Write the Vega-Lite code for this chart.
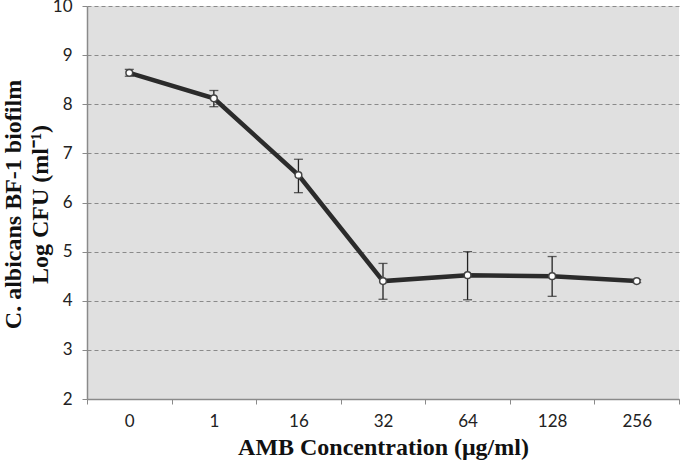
{
  "$schema": "https://vega.github.io/schema/vega-lite/v6.json",
  "width": 592,
  "height": 393,
  "autosize": {"type": "none"},
  "padding": {"left": 87, "top": 6, "right": 1, "bottom": 66},
  "background": "white",
  "config": {
    "view": {"fill": "#e0e0e0", "stroke": null},
    "axis": {"labelFont": "Lato", "labelFontSize": 17, "labelColor": "#222", "titleFont": "Liberation Serif", "titleFontSize": 24, "titleFontWeight": "bold", "titleColor": "#111"}
  },
  "data": {"values": [
    {"conc": "0", "mean": 8.64, "lo": 8.57, "hi": 8.71},
    {"conc": "1", "mean": 8.12, "lo": 7.95, "hi": 8.28},
    {"conc": "16", "mean": 6.56, "lo": 6.20, "hi": 6.88},
    {"conc": "32", "mean": 4.40, "lo": 4.03, "hi": 4.76},
    {"conc": "64", "mean": 4.52, "lo": 4.02, "hi": 5.0},
    {"conc": "128", "mean": 4.50, "lo": 4.09, "hi": 4.90},
    {"conc": "256", "mean": 4.40, "lo": 4.37, "hi": 4.43}
  ]},
  "encoding": {
    "x": {
      "field": "conc", "type": "nominal", "sort": null,
      "scale": {"type": "band", "paddingInner": 0, "paddingOuter": 0},
      "axis": {"title": "AMB Concentration (μg/ml)", "labelAngle": 0, "tickBand": "extent", "domainColor": "#8a8a8a", "domainWidth": 1.5, "tickColor": "#8a8a8a", "tickSize": 5, "labelPadding": 9, "titleBaseline": "middle", "titleY": 48, "grid": false}
    }
  },
  "layer": [
    {
      "mark": {"type": "rule", "color": "#222", "strokeWidth": 1.3},
      "encoding": {
        "y": {"field": "lo", "type": "quantitative"},
        "y2": {"field": "hi"}
      }
    },
    {
      "mark": {"type": "tick", "color": "#222", "thickness": 1.3, "size": 9, "orient": "horizontal"},
      "encoding": {"y": {"field": "lo", "type": "quantitative"}}
    },
    {
      "mark": {"type": "tick", "color": "#222", "thickness": 1.3, "size": 9, "orient": "horizontal"},
      "encoding": {"y": {"field": "hi", "type": "quantitative"}}
    },
    {
      "mark": {"type": "line", "color": "#2b2b2b", "strokeWidth": 4.5},
      "encoding": {
        "y": {
          "field": "mean", "type": "quantitative",
          "scale": {"domain": [2, 10], "nice": false, "zero": false},
          "axis": {"title": ["C. albicans BF-1 biofilm", "Log CFU (ml⁻¹)"], "values": [2, 3, 4, 5, 6, 7, 8, 9, 10], "grid": true, "gridColor": "#8a8a8a", "gridDash": [4, 3], "gridWidth": 1, "domainColor": "#8a8a8a", "domainWidth": 1.5, "tickColor": "#8a8a8a", "tickSize": 5, "labelPadding": 10, "titleAngle": -90, "titleBaseline": "middle", "titleX": -74, "titleY": 198, "titleLineHeight": 27}
        }
      }
    },
    {
      "mark": {"type": "point", "shape": "circle", "filled": true, "fill": "white", "stroke": "#444", "strokeWidth": 1.5, "size": 45, "opacity": 1},
      "encoding": {"y": {"field": "mean", "type": "quantitative"}}
    }
  ]
}
